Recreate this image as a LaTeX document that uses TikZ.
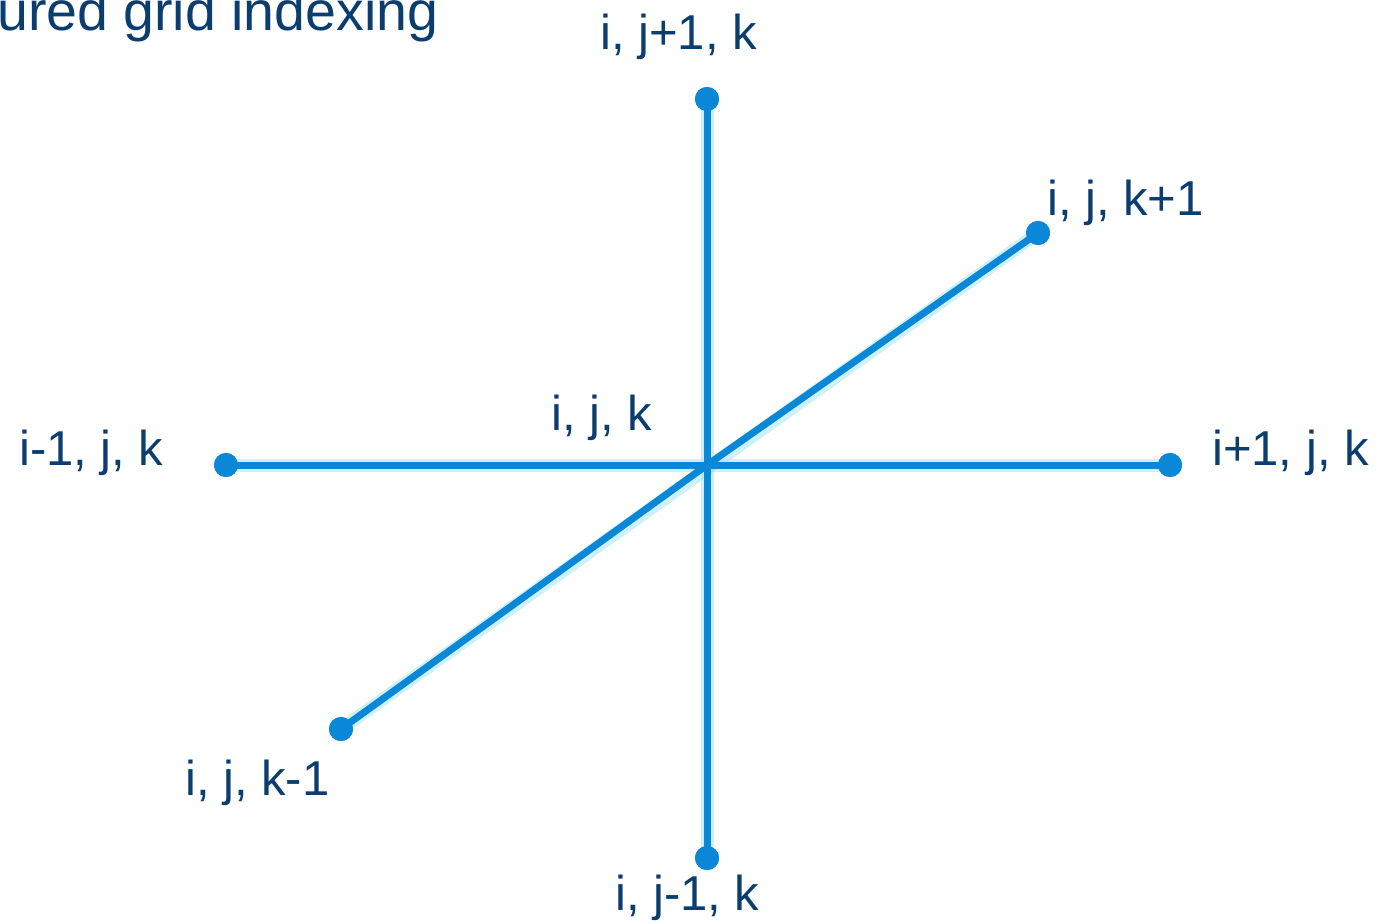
\documentclass[tikz,border=0pt]{standalone}
\usepackage{fontspec}
\setmainfont{Liberation Sans}
\definecolor{gridblue}{HTML}{0A87D6}
\definecolor{labelnavy}{HTML}{0B3D6E}
\definecolor{glowcyan}{HTML}{9BE3EE}
\tikzset{
  pt/.style={circle, fill=gridblue, inner sep=0pt, minimum size=24pt},
  arm/.style={gridblue, line width=7pt},
  glow/.style={glowcyan, line width=13pt, opacity=0.5},
  lbl/.style={text=labelnavy, anchor=base west, inner sep=0pt, font=\fontsize{49}{57}\selectfont}
}
\begin{document}
\begin{tikzpicture}[x=1pt, y=-1pt]
    % 1. Khung hình
    \useasboundingbox (0,0) rectangle (1380,923);
    \clip (0,0) rectangle (1380,923);

    % 2. Tiêu đề (bị cắt)
    \node[lbl, font=\fontsize{55.5}{63}\selectfont] (title) at (-3,31) {ured grid indexing};

    % 3. Các điểm lưới
    \coordinate (c) at (707,465);
    \node[pt] (up) at (707,99) {};
    \node[pt] (down) at (707,858) {};
    \node[pt] (left) at (226,465) {};
    \node[pt] (right) at (1170,465) {};
    \node[pt] (front) at (1038,233) {};
    \node[pt] (back) at (341,729) {};

    % 4. Bóng mờ dưới các đoạn
    \begin{scope}[shift={(1,3)}]
        \draw[glow] (up.center) -- (down.center);
        \draw[glow] (left.center) -- (right.center);
        \draw[glow] (back.center) -- (front.center);
    \end{scope}

    % 5. Các đoạn nối
    \draw[arm] (c) -- (up.center);
    \draw[arm] (c) -- (down.center);
    \draw[arm] (c) -- (left.center);
    \draw[arm] (c) -- (right.center);
    \draw[arm] (c) -- (front.center);
    \draw[arm] (c) -- (back.center);
    \foreach \p in {up,down,left,right,front,back}
        \node[pt] at (\p) {};

    % 6. Nhãn chỉ số
    \node[lbl] (lup) at (600,50) {i, j+1, k};
    \node[lbl] (lfront) at (1047,215) {i, j, k+1};
    \node[lbl] (lc) at (551,430) {i, j, k};
    \node[lbl] (lleft) at (19,465) {i-1, j, k};
    \node[lbl] (lright) at (1212,465) {i+1, j, k};
    \node[lbl] (lback) at (185,795) {i, j, k-1};
    \node[lbl] (ldown) at (615,910) {i, j-1, k};
\end{tikzpicture}
\end{document}
